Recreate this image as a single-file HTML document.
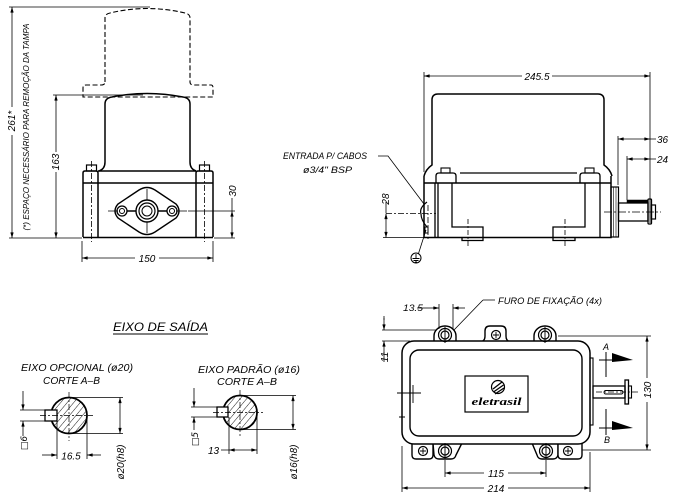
<!DOCTYPE html>
<html><head><meta charset="utf-8">
<style>
html,body{margin:0;padding:0;background:#fff;}
svg{display:block;}
text{font-family:"Liberation Sans",sans-serif;font-style:italic;font-size:10px;fill:#000;stroke:none;}
</style></head><body>
<svg width="676" height="500" viewBox="0 0 676 500" xmlns="http://www.w3.org/2000/svg">
<defs>
<marker id="a" viewBox="0 0 10 6" refX="10" refY="3" markerWidth="6" markerHeight="3.4" markerUnits="userSpaceOnUse" orient="auto-start-reverse"><path d="M0,0L10,3L0,6z" fill="#000"/></marker>
<pattern id="h" width="5" height="5" patternUnits="userSpaceOnUse" patternTransform="rotate(40)"><line x1="0" y1="0" x2="0" y2="5" stroke="#000" stroke-width="0.9"/></pattern>
</defs>
<rect width="676" height="500" fill="#fff"/>

<!-- ================= FRONT VIEW ================= -->
<g fill="none" stroke="#000">
 <path stroke-width="1.1" stroke-dasharray="5,2.5" d="M105,82 L105,18 Q105,14 110,13 Q147,4 185,13 Q190,14 190,18 L190,82 Q190,85 194,85 L211,85 Q213,85 213,88 L213,97 L83,97 L83,88 Q83,85 86,85 L101,85 Q105,85 105,82Z"/>
 <path stroke-width="1.5" d="M99,171 Q105,169 105,162 L105,104 Q105,98 112,97 Q147,90 183,97 Q190,98 190,104 L190,162 Q190,169 196,171"/>
 <path stroke-width="1.5" d="M83,237 L83,173 Q83,171 85,171 L96,171 Q98,171 98,173 L98,237 M196,237 L196,173 Q196,171 198,171 L211,171 Q213,171 213,173 L213,237 M83,237.5 L213,237.5 M98,171 L196,171 M83,183 L213,183"/>
 <rect x="86.5" y="165" width="10" height="6" stroke-width="1.2"/>
 <rect x="199.5" y="165" width="10" height="6" stroke-width="1.2"/>
 <path stroke-width="0.8" stroke-dasharray="6,2,2,2" d="M91.5,161 L91.5,242 M204.5,161 L204.5,242"/>
 <path stroke-width="1.4" d="M118,204 Q112,211 118,218 L139,232 Q147,237 155,232 L176,218 Q182,211 176,204 L155,190 Q147,185 139,190 Z"/>
 <circle cx="122" cy="211" r="5" stroke-width="1.3"/>
 <circle cx="122" cy="211" r="2.5" stroke-width="1"/>
 <circle cx="172" cy="211" r="5" stroke-width="1.3"/>
 <circle cx="172" cy="211" r="2.5" stroke-width="1"/>
 <circle cx="147" cy="211" r="11" stroke-width="1.4"/>
 <circle cx="147" cy="211" r="8" stroke-width="1.2"/>
 <circle cx="147" cy="211" r="5" stroke-width="1"/>
 <path stroke-width="1.6" d="M127,211 L136,211 M158,211 L167,211"/>
 <path stroke-width="0.8" d="M108,211 L118,211 M176,211 L187,211 M147,189 L147,200 M147,222 L147,233"/>
 <path stroke-width="0.8" d="M9,7 L150,7 M9,238 L82,238 M53,95 L143,95 M188,211 L235,211 M214,238 L235,238 M82,241 L82,262 M213,241 L213,262 M232,198 L232,211"/>
 <line x1="12" y1="7" x2="12" y2="238" stroke-width="0.8" marker-start="url(#a)" marker-end="url(#a)"/>
 <line x1="56" y1="95" x2="56" y2="238" stroke-width="0.8" marker-start="url(#a)" marker-end="url(#a)"/>
 <line x1="232" y1="211" x2="232" y2="238" stroke-width="0.8" marker-start="url(#a)" marker-end="url(#a)"/>
 <line x1="82" y1="258" x2="213" y2="258" stroke-width="0.8" marker-start="url(#a)" marker-end="url(#a)"/>
</g>
<rect x="6" y="107" width="12" height="28" fill="#fff"/>
<rect x="50" y="152" width="12" height="20" fill="#fff"/>
<rect x="135" y="252" width="24" height="12" fill="#fff"/>
<text transform="rotate(-90 15 121)" x="15" y="121" text-anchor="middle">261*</text>
<text transform="rotate(-90 59 162)" x="59" y="162" text-anchor="middle">163</text>
<text transform="rotate(-90 236 191)" x="236" y="191" text-anchor="middle">30</text>
<text x="147" y="262" text-anchor="middle">150</text>
<text transform="rotate(-90 29 127)" x="29" y="127" text-anchor="middle" textLength="207" lengthAdjust="spacingAndGlyphs" style="font-size:8.5px">(*) ESPAÇO NECESSÁRIO PARA REMOÇÃO DA TAMPA</text>

<!-- ================= SIDE VIEW ================= -->
<g fill="none" stroke="#000">
 <path stroke-width="1.5" d="M424,176 Q426,169 432,165 L432,100 Q432,94 438,94 L598,94 Q604,94 604,100 L604,165 Q610,169 612,176"/>
 <path stroke-width="1.5" d="M424,176 L424,237.5 L611,237.5 L611,176 M424,183 L611,183"/>
 <path stroke-width="1.3" d="M436,183 L436,176 Q436,173 439,173 L453,173 Q456,173 456,176 L456,183 M580,183 L580,176 Q580,173 583,173 L597,173 Q600,173 600,176 L600,183 M460,173 L577,173"/>
 <rect x="441" y="168" width="9" height="5" stroke-width="1.1"/>
 <rect x="585" y="168" width="9" height="5" stroke-width="1.1"/>
 <path stroke-width="1.3" d="M435,183 L435,237 M438,183 L438,237 M452,183 L452,227 L483,227 L483,237 M585,183 L585,227 L553,227 L553,237 M600,183 L600,237"/>
 <path stroke-width="1.3" d="M462,237.5 L462,240.5 L483,240.5 L483,237.5 M553,237.5 L553,240.5 L575,240.5 L575,237.5"/>
 <path stroke-width="0.8" stroke-dasharray="5,2,2,2" d="M468,219 L468,246 M565,219 L565,246"/>
 <rect x="611" y="187" width="7.5" height="50" stroke-width="1.2"/>
 <path stroke-width="0.6" d="M613.5,187 L613.5,237 M616,187 L616,237"/>
 <rect x="618.5" y="203" width="29.5" height="18" stroke-width="1.3"/>
 <rect x="627" y="200" width="21" height="3" fill="#000" stroke-width="0.5"/>
 <rect x="648" y="199" width="3.5" height="25" rx="1" stroke-width="1.3"/>
 <rect x="651.5" y="205" width="4" height="14" stroke-width="1.2"/>
 <path stroke-width="0.8" stroke-dasharray="8,2,2,2" d="M604,212 L661,212"/>
 <path stroke-width="1.2" d="M427,202 Q419,208 421,214 Q421,220 427,227"/>
 <rect x="425" y="227" width="3" height="6" stroke-width="1"/>
 <path stroke-width="0.8" stroke-dasharray="6,2,2,2" d="M386,213.5 L436,213.5 M428,205 L428,240"/>
 <circle cx="416" cy="258" r="5" stroke-width="1"/>
 <path stroke-width="0.9" d="M416,254 L416,258.5 M412.5,258.5 L419.5,258.5 M413.5,260.5 L418.5,260.5 M415,262 L417,262"/>
 <path stroke-width="0.8" d="M418.5,253.5 L426,230 M378,156 L388,156 L424,204"/>
 <path stroke-width="0.8" d="M424,72 L424,172 M650,72 L650,223 M618,136 L618,185 M627,156 L627,200 M383,237.5 L424,237.5 M386,202 L386,213 M650,139 L656,139 M650,159 L656,159"/>
 <line x1="424" y1="76" x2="650" y2="76" stroke-width="0.8" marker-start="url(#a)" marker-end="url(#a)"/>
 <line x1="618" y1="139" x2="650" y2="139" stroke-width="0.8" marker-start="url(#a)" marker-end="url(#a)"/>
 <line x1="627" y1="159" x2="650" y2="159" stroke-width="0.8" marker-start="url(#a)" marker-end="url(#a)"/>
 <line x1="386" y1="213.5" x2="386" y2="237.5" stroke-width="0.8" marker-start="url(#a)" marker-end="url(#a)"/>
</g>
<rect x="522" y="70" width="30" height="12" fill="#fff"/>
<text x="537" y="80" text-anchor="middle">245.5</text>
<text x="657" y="143">36</text>
<text x="657" y="163">24</text>
<text transform="rotate(-90 389 199)" x="389" y="199" text-anchor="middle">28</text>
<text x="283" y="159" textLength="84" lengthAdjust="spacingAndGlyphs" style="font-size:9px">ENTRADA P/ CABOS</text>
<text x="303" y="173" textLength="49" lengthAdjust="spacingAndGlyphs" style="font-size:9px">ø3/4" BSP</text>

<!-- ================= SECTION VIEWS ================= -->
<text x="113" y="331" textLength="95" lengthAdjust="spacingAndGlyphs" style="font-size:12px">EIXO DE SAÍDA</text>
<line x1="113" y1="334" x2="208" y2="334" stroke="#000" stroke-width="0.9"/>
<text x="21" y="371" textLength="112" lengthAdjust="spacingAndGlyphs" style="font-size:10px">EIXO OPCIONAL (ø20)</text>
<text x="43" y="384" textLength="57" lengthAdjust="spacingAndGlyphs" style="font-size:10px">CORTE A–B</text>
<text x="198" y="373" textLength="102" lengthAdjust="spacingAndGlyphs" style="font-size:10px">EIXO PADRÃO (ø16)</text>
<text x="217" y="385" textLength="60" lengthAdjust="spacingAndGlyphs" style="font-size:10px">CORTE A–B</text>

<g fill="none" stroke="#000">
 <circle cx="69" cy="415.5" r="18" fill="url(#h)" stroke-width="1.8"/>
 <rect x="45" y="410" width="12" height="11" fill="#fff" stroke-width="1.3"/>
 <path stroke-width="0.7" stroke-dasharray="6,2,2,2" d="M40,415.5 L93,415.5 M69,392 L69,441"/>
 <path stroke-width="0.8" d="M69,397.5 L123,397.5 M69,433.5 L123,433.5 M20,410 L45,410 M20,421 L45,421 M57,421 L57,459 M87,420 L87,459 M23,391 L23,397 M23,433 L23,436"/>
 <line x1="120" y1="397.5" x2="120" y2="433.5" stroke-width="0.8" marker-start="url(#a)" marker-end="url(#a)"/>
 <line x1="23" y1="397" x2="23" y2="410" stroke-width="0.8" marker-end="url(#a)"/>
 <line x1="23" y1="433" x2="23" y2="421" stroke-width="0.8" marker-end="url(#a)"/>
 <line x1="42" y1="455" x2="57" y2="455" stroke-width="0.8" marker-end="url(#a)"/>
 <line x1="101" y1="455" x2="87" y2="455" stroke-width="0.8" marker-end="url(#a)"/>
 <circle cx="240" cy="412.5" r="17" fill="url(#h)" stroke-width="1.8"/>
 <rect x="217" y="407" width="11" height="10" fill="#fff" stroke-width="1.3"/>
 <path stroke-width="0.7" stroke-dasharray="6,2,2,2" d="M213,412.5 L263,412.5 M240,390 L240,437"/>
 <path stroke-width="0.8" d="M240,395.5 L296,395.5 M240,429.5 L296,429.5 M191,407 L217,407 M191,417 L217,417 M229,417 L229,454 M257,413 L257,454 M221,450 L229,450 M194,388 L194,393 M194,423 L194,430"/>
 <line x1="293" y1="395.5" x2="293" y2="429.5" stroke-width="0.8" marker-start="url(#a)" marker-end="url(#a)"/>
 <line x1="194" y1="393" x2="194" y2="407" stroke-width="0.8" marker-end="url(#a)"/>
 <line x1="194" y1="423" x2="194" y2="417" stroke-width="0.8" marker-end="url(#a)"/>
 <line x1="229" y1="450" x2="257" y2="450" stroke-width="0.8" marker-start="url(#a)" marker-end="url(#a)"/>
</g>
<text x="71" y="459.5" text-anchor="middle">16.5</text>
<text x="208" y="454">13</text>
<text transform="rotate(-90 124 462)" x="124" y="462" text-anchor="middle">ø20(h8)</text>
<text transform="rotate(-90 297 462)" x="297" y="462" text-anchor="middle">ø16(h8)</text>
<text transform="rotate(-90 27 443)" x="27" y="443" text-anchor="middle" style="font-family:'DejaVu Sans',sans-serif;font-size:9px">□6</text>
<text transform="rotate(-90 198 439)" x="198" y="439" text-anchor="middle" style="font-family:'DejaVu Sans',sans-serif;font-size:9px">□5</text>

<!-- ================= TOP VIEW ================= -->
<g fill="none" stroke="#000">
 <path stroke-width="1.4" fill="#fff" d="M434,343 L434,336 A11,10 0 0 1 456,336 L456,343"/>
 <path stroke-width="1.4" fill="#fff" d="M534,343 L534,336 A11,10 0 0 1 556,336 L556,343"/>
 <path stroke-width="1.4" fill="#fff" d="M479,342 Q485,342 485,336 L485,331 Q485,326 490,326 L501,326 Q506,326 506,331 L506,336 Q506,342 512,342"/>
 <path stroke-width="1.4" fill="#fff" d="M412,440 L412,455 Q412,459 416,459 L429,459 Q433,459 433,455 L433,443"/>
 <path stroke-width="1.4" fill="#fff" d="M433,443 L434,455 Q435,459 439,459 L451,459 Q455,459 456,455 L462,443"/>
 <path stroke-width="1.4" fill="#fff" d="M532,443 L537,455 Q538,459 542,459 L553,459 Q557,459 558,455 L558,443"/>
 <path stroke-width="1.4" fill="#fff" d="M558,443 L558,455 Q558,459 562,459 L578,459 Q582,459 582,455 L582,440"/>
 <rect x="402" y="341" width="188" height="103" rx="12" fill="#fff" stroke-width="1.5"/>
 <rect x="410" y="350" width="172" height="86" rx="9" stroke-width="1.4"/>
 <g stroke-width="1.2">
  <circle cx="445" cy="335" r="6.5"/><circle cx="445" cy="335" r="4"/>
  <circle cx="545" cy="335" r="6.5"/><circle cx="545" cy="335" r="4"/>
  <circle cx="445" cy="451" r="6.5"/><circle cx="445" cy="451" r="4"/>
  <circle cx="546" cy="451" r="6.5"/><circle cx="546" cy="451" r="4"/>
  <circle cx="496" cy="335" r="4.5"/>
  <circle cx="423" cy="451" r="4.5"/>
  <circle cx="568" cy="451" r="4.5"/>
 </g>
 <path stroke-width="0.9" d="M445,327 L445,343 M545,327 L545,343 M445,443 L445,459 M546,443 L546,459 M493,335 L499,335 M496,332 L496,338 M420,451 L426,451 M423,448 L423,454 M565,451 L571,451 M568,448 L568,454"/>
 <rect x="465" y="376" width="63" height="36" stroke-width="1.2"/>
 <circle cx="498" cy="387" r="6.5" stroke-width="1.2"/>
 <path stroke-width="1.3" d="M493,389 L502,382 M493.5,392 L503.5,385 M495,394 L504,388"/>
 <path stroke-width="0.9" d="M397,393 L421,393 M413,385 L413,403 M399,417 L405,417 M402,413 L402,421"/>
 <rect x="590" y="358" width="3" height="67" stroke-width="1.1"/>
 <rect x="593" y="386" width="32" height="12" stroke-width="1.3"/>
 <rect x="604" y="390.5" width="19" height="3.5" rx="1.7" stroke-width="0.9"/>
 <rect x="625" y="380" width="3.5" height="24" stroke-width="1.3"/>
 <rect x="628.5" y="386" width="3" height="12" stroke-width="1.1"/>
 <path stroke-width="0.7" stroke-dasharray="6,2,2,2" d="M596,392 L640,392"/>
 <path stroke-width="1" d="M606,352 L606,377 M599,360 L613,360 M606,409 L606,435 M599,428 L613,428"/>
 <polygon points="612,353 633,360 612,362" fill="#000" stroke="none"/>
 <polygon points="612,421 633,428 612,430" fill="#000" stroke="none"/>
 <path stroke-width="0.8" d="M558,336 L651,336 M582,450 L651,450 M402,446 L402,492 M590,452 L590,492 M445,460 L445,477 M546,460 L546,477 M439,304 L439,329 M453,304 L453,329 M382,330 L436,330 M382,341 L410,341 M384,316 L384,320 M384,352 L384,362 M417,308 L423,308 M483,300 L495,300 M483,300 L454,330"/>
 <line x1="647" y1="336" x2="647" y2="450" stroke-width="0.8" marker-start="url(#a)" marker-end="url(#a)"/>
 <line x1="402" y1="488" x2="590" y2="488" stroke-width="0.8" marker-start="url(#a)" marker-end="url(#a)"/>
 <line x1="445" y1="473" x2="546" y2="473" stroke-width="0.8" marker-start="url(#a)" marker-end="url(#a)"/>
 <line x1="423" y1="308" x2="439" y2="308" stroke-width="0.8" marker-end="url(#a)"/>
 <line x1="465" y1="308" x2="453" y2="308" stroke-width="0.8" marker-end="url(#a)"/>
 <line x1="384" y1="318" x2="384" y2="330" stroke-width="0.8" marker-end="url(#a)"/>
 <line x1="384" y1="353" x2="384" y2="341" stroke-width="0.8" marker-end="url(#a)"/>
</g>
<text x="496.5" y="405" text-anchor="middle" style="font-family:'Liberation Serif',serif;font-weight:bold;font-style:italic;font-size:11px" textLength="50" lengthAdjust="spacingAndGlyphs">eletrasil</text>
<rect x="484" y="467" width="24" height="12" fill="#fff"/>
<rect x="484" y="482" width="24" height="12" fill="#fff"/>
<rect x="641" y="378" width="12" height="24" fill="#fff"/>
<text x="496" y="477" text-anchor="middle">115</text>
<text x="496" y="492" text-anchor="middle">214</text>
<text transform="rotate(-90 651 390)" x="651" y="390" text-anchor="middle">130</text>
<text transform="rotate(-90 388 357)" x="388" y="357" text-anchor="middle">11</text>
<text x="403" y="311" textLength="20" lengthAdjust="spacingAndGlyphs" style="font-size:9px">13.5</text>
<text x="498" y="304" textLength="104" lengthAdjust="spacingAndGlyphs" style="font-size:9px">FURO DE FIXAÇÃO (4x)</text>
<text x="606" y="350" text-anchor="middle" style="font-size:9px">A</text>
<text x="607" y="443" text-anchor="middle" style="font-size:9px">B</text>
</svg>
</body></html>
